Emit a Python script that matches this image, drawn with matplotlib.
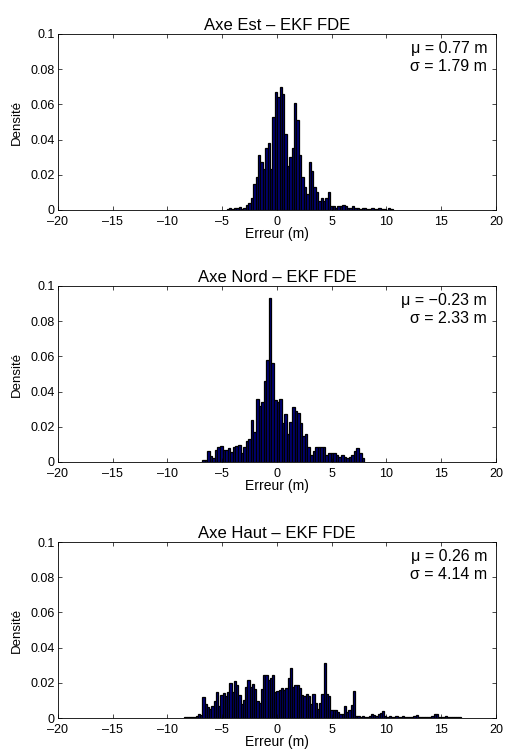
import numpy as np
import matplotlib.pyplot as plt

plt.rcParams['font.family'] = ['Liberation Sans', 'DejaVu Sans']

# Titles and statistics for the three axes
titles = ['Axe Est \u2013 EKF FDE', 'Axe Nord \u2013 EKF FDE', 'Axe Haut \u2013 EKF FDE']
mu_text = ['0.77', '\u22120.23', '0.26']
sigma_text = ['1.79', '2.33', '4.14']

# Histogram densities (bin start, bin width, heights)
est_start, est_width = -4.6, 0.22
est_density = [0.0005, 0.001, 0.0005, 0.001, 0.001, 0.0015, 0.0005, 0.001,
               0.003, 0.004, 0.007, 0.015, 0.019, 0.031, 0.027, 0.023, 0.035, 0.038,
               0.023, 0.053, 0.067, 0.064, 0.070, 0.066, 0.043, 0.025, 0.030, 0.035,
               0.061, 0.051, 0.031, 0.019, 0.013, 0.009, 0.027, 0.022, 0.013, 0.010,
               0.005, 0.007, 0.005, 0.007, 0.010, 0.002,
               0.002, 0.001, 0.002, 0.002, 0.003, 0.002, 0.001, 0.001, 0.002, 0.001,
               0.001, 0.0005, 0.001, 0.001, 0.0005, 0.0005, 0.001, 0.0005, 0.0005,
               0.001, 0.0005, 0.0005, 0.0, 0.001, 0.0005]

nord_start, nord_width = -6.85, 0.235
nord_density = [0.001, 0.001, 0.006, 0.0036, 0.002, 0.0068, 0.0087, 0.009, 0.0068,
                0.007, 0.008, 0.0055, 0.0085, 0.009, 0.0095, 0.005, 0.0085, 0.012,
                0.013, 0.024, 0.017, 0.036, 0.032, 0.034, 0.046, 0.058, 0.093, 0.056,
                0.035, 0.034, 0.036, 0.022, 0.027, 0.016, 0.023, 0.031, 0.029, 0.028,
                0.022, 0.015, 0.016, 0.0087, 0.004, 0.006, 0.0085, 0.0085, 0.0085,
                0.0085, 0.004, 0.005, 0.005, 0.005, 0.004, 0.003, 0.004, 0.003, 0.002,
                0.003, 0.004, 0.006, 0.008, 0.005, 0.002]

haut_start, haut_width = -8.45, 0.205
haut_density = [0.0005, 0.0008, 0.0008, 0.0005, 0.0008, 0.001, 0.0025, 0.0015,
                0.0119, 0.008, 0.006, 0.0053, 0.0066, 0.0096, 0.0147, 0.0066, 0.0128,
                0.0142, 0.0123, 0.0147, 0.0198, 0.0147, 0.0213, 0.019, 0.0128, 0.008,
                0.0104, 0.0179, 0.0217, 0.0179, 0.0194, 0.0166, 0.0096, 0.0085, 0.0166,
                0.0247, 0.0242, 0.0217, 0.0228, 0.0247, 0.0147, 0.0151, 0.0157, 0.0172,
                0.016, 0.0172, 0.0227, 0.0283, 0.0179, 0.0189, 0.0185, 0.0172, 0.0128,
                0.0123, 0.0138, 0.0123, 0.008, 0.0134, 0.0085, 0.0053, 0.0085, 0.0138,
                0.0313, 0.0138, 0.0123, 0.0043, 0.0043, 0.0047, 0.0034, 0.0025, 0.002,
                0.0066, 0.0034, 0.0043, 0.0072, 0.0151,
                0.001, 0.001, 0.0008, 0.001, 0.0005, 0.0008, 0.001, 0.002, 0.0015,
                0.001, 0.002, 0.003, 0.004, 0.001, 0.0005, 0.001, 0.0008, 0.0005,
                0.001, 0.0005, 0.0005, 0.001, 0.0005, 0.0008, 0.0005, 0.0005, 0.001,
                0.0015, 0.0005, 0.0008, 0.0005, 0.0005, 0.0008, 0.0005, 0.001, 0.002,
                0.002, 0.0008, 0.0005, 0.0005, 0.001, 0.0005, 0.0008, 0.0005, 0.0005,
                0.0005, 0.0005]

hists = [(est_start, est_width, est_density),
         (nord_start, nord_width, nord_density),
         (haut_start, haut_width, haut_density)]

x_ticks = [-20, -15, -10, -5, 0, 5, 10, 15, 20]
x_labels = ['\u201320', '\u201315', '\u201310', '\u20135', '0', '5', '10', '15', '20']
y_ticks = [0, 0.02, 0.04, 0.06, 0.08, 0.1]
y_labels = ['0', '0.02', '0.04', '0.06', '0.08', '0.1']

fig = plt.figure(figsize=(5.06, 7.55), dpi=100)
bottoms = [0.7219, 0.3881, 0.0490]

for k in range(3):
    ax = fig.add_axes([0.1146, bottoms[k], 0.8656, 0.2331])
    start, width, dens = hists[k]
    edges = start + width * np.arange(len(dens))
    ax.bar(edges, dens, width=width, align='edge', color='#00007a',
           edgecolor='black', linewidth=0.9)

    ax.set_xlim(-20, 20)
    ax.set_ylim(0, 0.1)
    ax.set_xticks(x_ticks)
    ax.set_xticklabels(x_labels, fontsize=9)
    ax.set_yticks(y_ticks)
    ax.set_yticklabels(y_labels, fontsize=9)
    ax.tick_params(direction='in', top=True, right=True, length=3, width=0.5, pad=2.5)
    ax.tick_params(axis='x', pad=4.5)
    for s in ax.spines.values():
        s.set_linewidth(0.6)

    ax.set_title(titles[k], fontsize=12, pad=3)
    ax.set_xlabel('Erreur (m)', fontsize=10, labelpad=-1)
    ax.set_ylabel('Densit\u00e9', fontsize=9.5, labelpad=5)

    ax.text(19.2, 0.0915, '\u03bc = ' + mu_text[k] + ' m', ha='right', va='center', fontsize=11.5)
    ax.text(19.2, 0.0818, '\u03c3 = ' + sigma_text[k] + ' m', ha='right', va='center', fontsize=11.5)

fig.savefig('out.png', dpi=100)
